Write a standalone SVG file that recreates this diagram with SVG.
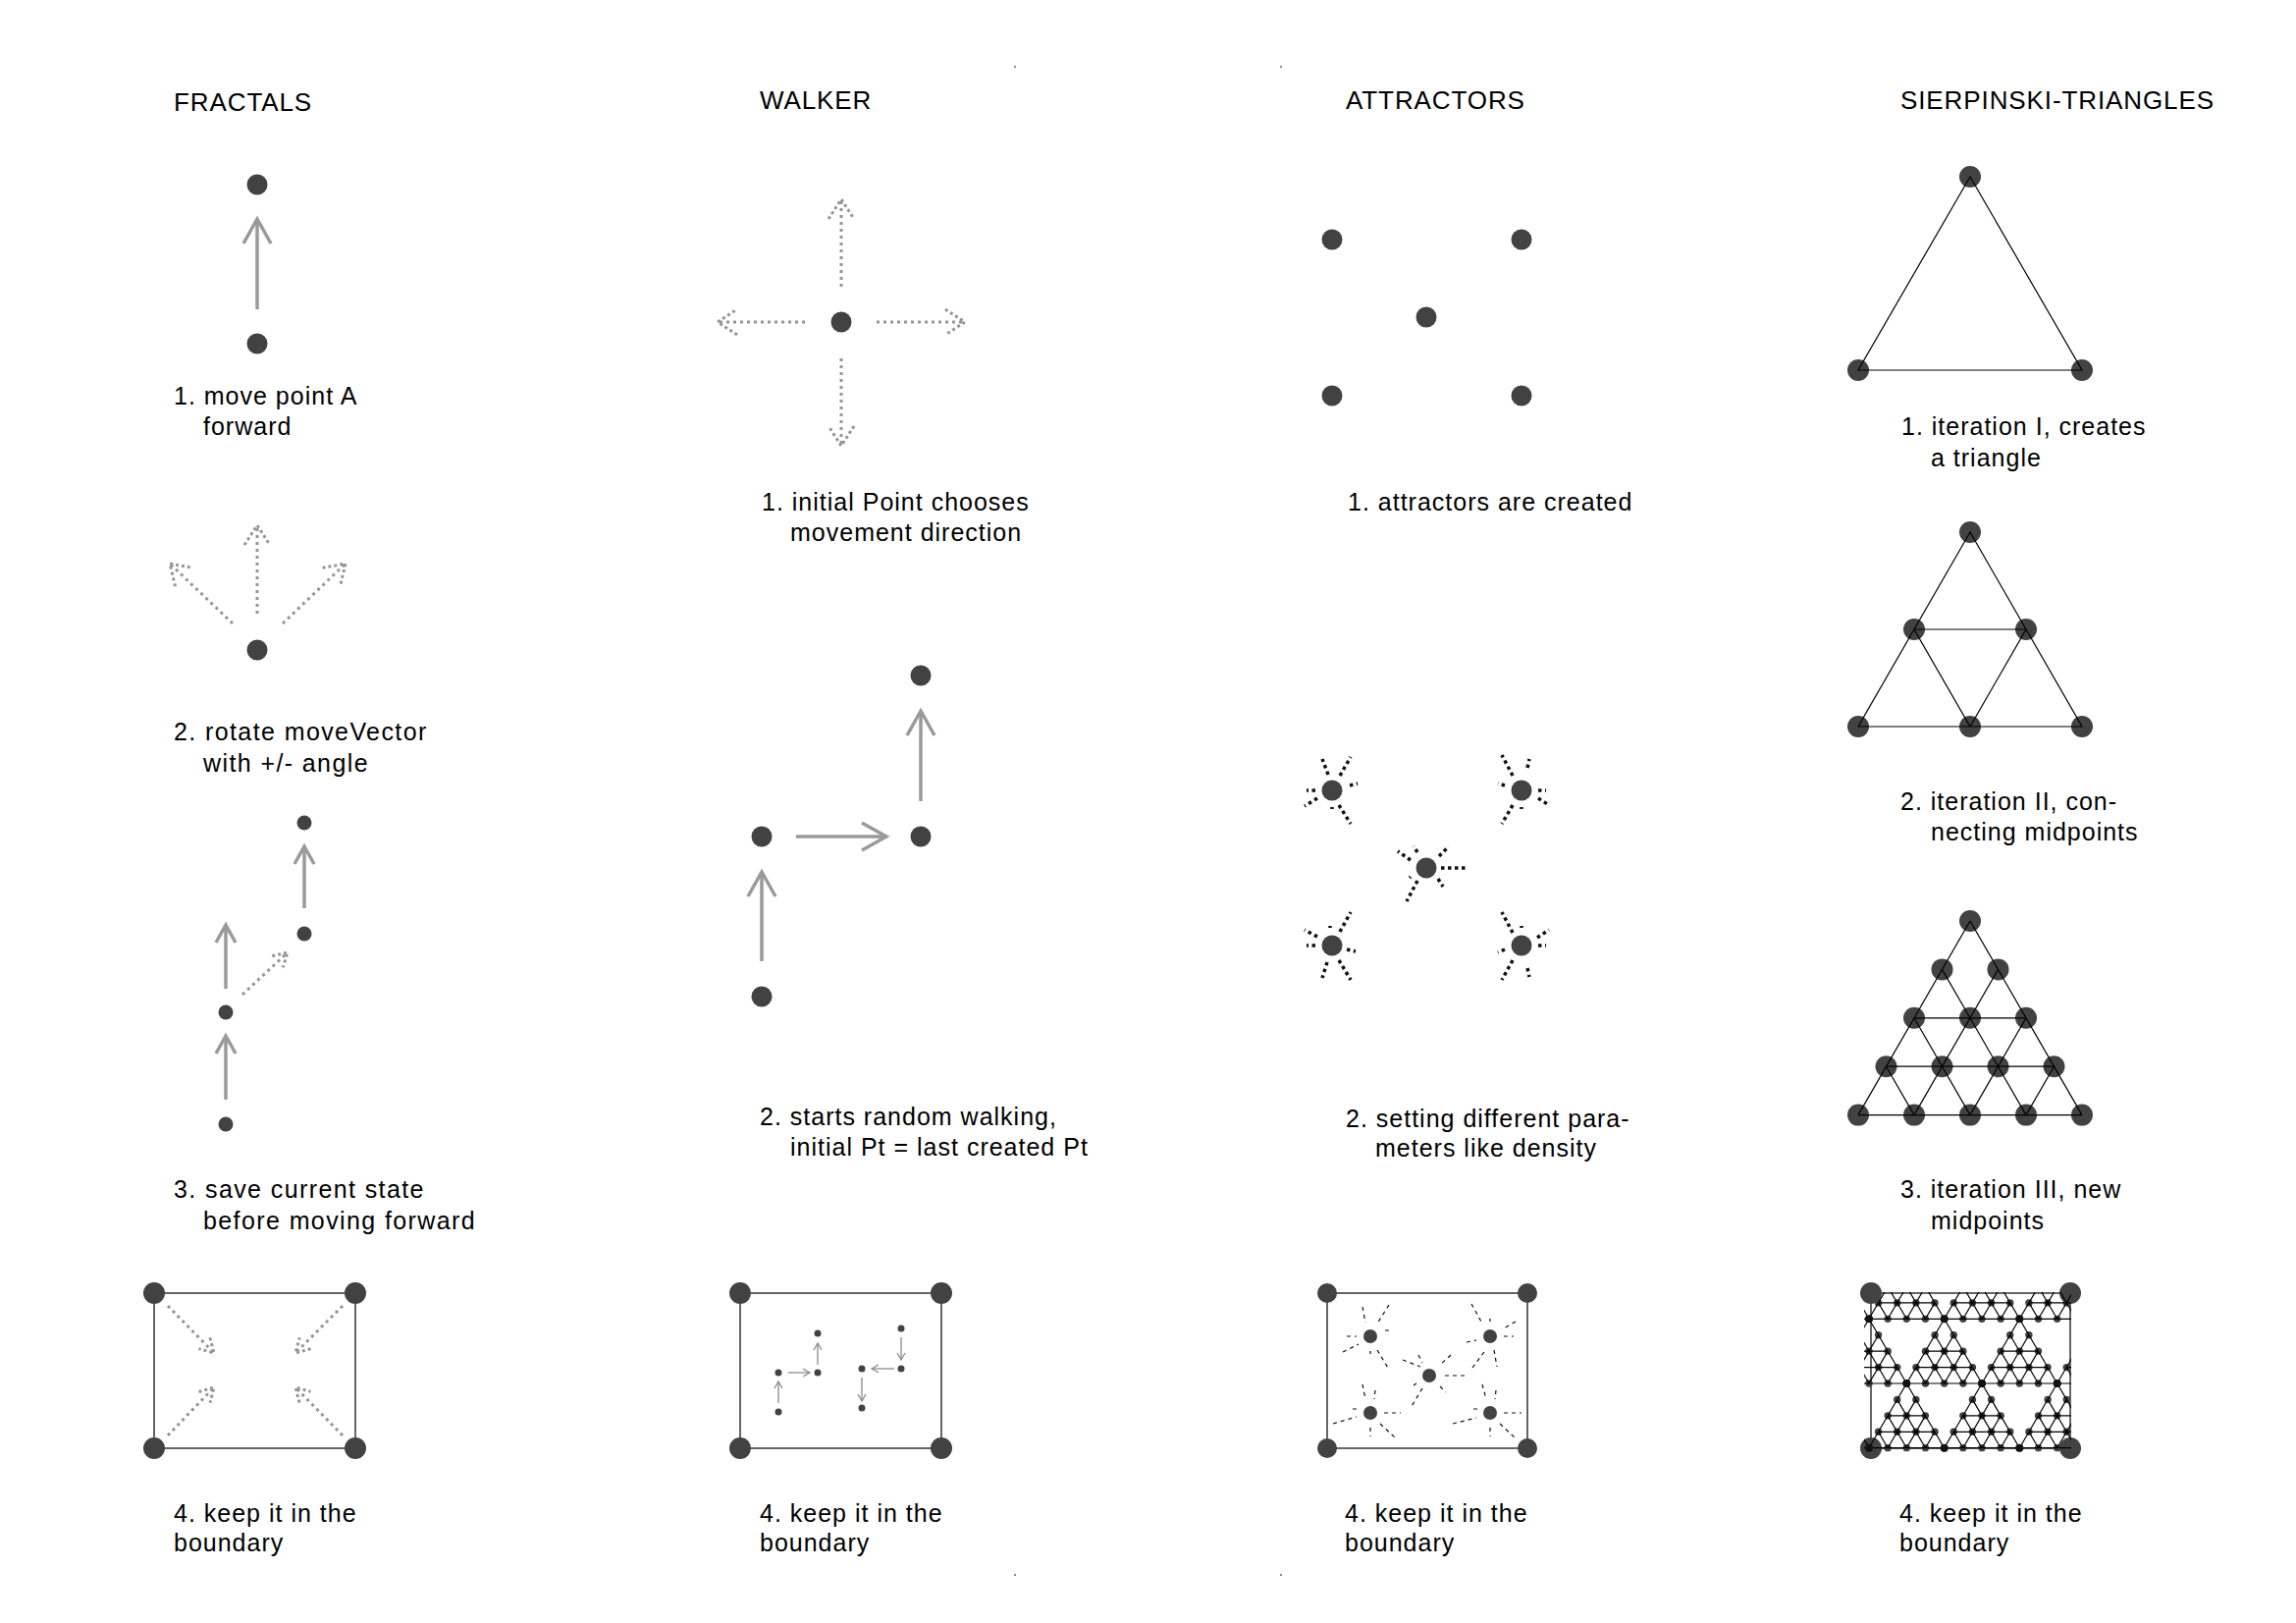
<svg xmlns="http://www.w3.org/2000/svg" width="2339" height="1653" viewBox="0 0 2339 1653">
<style>
.t{font-family:"Liberation Sans",Arial,sans-serif;font-size:25px;letter-spacing:1px;fill:#000}
.w{letter-spacing:1.4px}
.h{font-family:"Liberation Sans",Arial,sans-serif;font-size:26px;letter-spacing:0.9px;fill:#000}
.d{fill:#424242}
.bk{fill:#111}
.ga{stroke:#9a9a9a;stroke-width:3.5;fill:none;marker-end:url(#ah)}
.gs{stroke:#9a9a9a;stroke-width:3.5;fill:none;marker-end:url(#ahs)}
.da{stroke:#959595;stroke-width:3;stroke-dasharray:3 4;fill:none;marker-end:url(#dh)}
.ds{stroke:#959595;stroke-width:3;stroke-dasharray:3 4;fill:none;marker-end:url(#dhs)}
.tw{stroke:#8a8a8a;stroke-width:1.3;fill:none;marker-end:url(#tiny)}
.ray{stroke:#111;stroke-width:3.5;stroke-dasharray:3.5 3.5;fill:none}
.ray2{stroke:#111;stroke-width:1.2;stroke-dasharray:4 4;fill:none}
.box{fill:none;stroke:#333;stroke-width:1.5}
.sl{fill:none;stroke:#000;stroke-width:1.2;vector-effect:non-scaling-stroke}
.mk{fill:#8a8a8a}
</style>
<defs>
<marker id="ah" markerUnits="userSpaceOnUse" viewBox="-30 -20 40 40" markerWidth="40" markerHeight="40" refX="0" refY="0" orient="auto" overflow="visible">
<path d="M-25,-14 L0,0 L-25,14" fill="none" stroke="#9a9a9a" stroke-width="3.5"/>
</marker>
<marker id="ahs" markerUnits="userSpaceOnUse" viewBox="-30 -20 40 40" markerWidth="40" markerHeight="40" refX="0" refY="0" orient="auto" overflow="visible">
<path d="M-18,-10 L0,0 L-18,10" fill="none" stroke="#9a9a9a" stroke-width="3.5"/>
</marker>
<marker id="dh" markerUnits="userSpaceOnUse" viewBox="-30 -20 40 40" markerWidth="40" markerHeight="40" refX="0" refY="0" orient="auto" overflow="visible">
<path d="M-20,-13 L0,0 L-20,13" fill="none" stroke="#959595" stroke-width="3" stroke-dasharray="3 3"/>
</marker>
<marker id="dhs" markerUnits="userSpaceOnUse" viewBox="-30 -20 40 40" markerWidth="40" markerHeight="40" refX="0" refY="0" orient="auto" overflow="visible">
<path d="M-14,-8 L0,0 L-14,8" fill="none" stroke="#959595" stroke-width="3" stroke-dasharray="3 3"/>
</marker>
<marker id="tiny" markerUnits="userSpaceOnUse" viewBox="-10 -10 20 20" markerWidth="20" markerHeight="20" refX="0" refY="0" orient="auto" overflow="visible">
<path d="M-7,-4 L0,0 L-7,4" fill="none" stroke="#8a8a8a" stroke-width="1.3"/>
</marker>
<g id="tri3">
<g class="d">
<circle cx="0" cy="0" r="11"/>
<circle cx="-28.5" cy="49.4" r="11"/><circle cx="28.5" cy="49.4" r="11"/>
<circle cx="-57" cy="98.8" r="11"/><circle cx="0" cy="98.8" r="11"/><circle cx="57" cy="98.8" r="11"/>
<circle cx="-85.5" cy="148.2" r="11"/><circle cx="-28.5" cy="148.2" r="11"/><circle cx="28.5" cy="148.2" r="11"/><circle cx="85.5" cy="148.2" r="11"/>
<circle cx="-114" cy="197.6" r="11"/><circle cx="-57" cy="197.6" r="11"/><circle cx="0" cy="197.6" r="11"/><circle cx="57" cy="197.6" r="11"/><circle cx="114" cy="197.6" r="11"/>
</g>
<path class="sl" d="M0,0 L-114,197.6 M28.5,49.4 L-57,197.6 M57,98.8 L0,197.6 M85.5,148.2 L57,197.6 M0,0 L114,197.6 M-28.5,49.4 L57,197.6 M-57,98.8 L0,197.6 M-85.5,148.2 L-57,197.6 M-57,98.8 L57,98.8 M-85.5,148.2 L85.5,148.2 M-114,197.6 L114,197.6"/>
</g>
<clipPath id="c4"><rect x="1899" y="1316" width="211" height="166"/></clipPath>
</defs>
<rect width="2339" height="1653" fill="#fff"/>

<g id="marks">
<rect class="mk" x="1033" y="67" width="2" height="2"/>
<rect class="mk" x="1304" y="67" width="2" height="2"/>
<rect class="mk" x="1033" y="1603" width="2" height="2"/>
<rect class="mk" x="1304" y="1603" width="2" height="2"/>
</g>

<g id="titles">
<text class="h" x="177" y="113">FRACTALS</text>
<text class="h" x="774" y="111">WALKER</text>
<text class="h" x="1371" y="111">ATTRACTORS</text>
<text class="h" x="1936" y="111">SIERPINSKI-TRIANGLES</text>
</g>

<g id="connectors">
<line class="ga" x1="262" y1="315" x2="262" y2="223"/>
<line class="da" x1="262" y1="625" x2="262" y2="535"/>
<line class="da" x1="237" y1="635" x2="173" y2="574"/>
<line class="da" x1="288" y1="635" x2="352" y2="574"/>
<line class="gs" x1="310" y1="925" x2="310" y2="862"/>
<line class="gs" x1="230" y1="1007" x2="230" y2="942"/>
<line class="gs" x1="230" y1="1120" x2="230" y2="1055"/>
<line class="ds" x1="247" y1="1013" x2="293" y2="970"/>
<line class="ds" x1="171" y1="1330" x2="218" y2="1378"/>
<line class="ds" x1="349" y1="1330" x2="301" y2="1378"/>
<line class="ds" x1="171" y1="1462" x2="218" y2="1413"/>
<line class="ds" x1="349" y1="1462" x2="301" y2="1413"/>
<line class="da" x1="857" y1="292" x2="857" y2="203"/>
<line class="da" x1="857" y1="365" x2="857" y2="454"/>
<line class="da" x1="820" y1="328" x2="731" y2="328"/>
<line class="da" x1="893" y1="328" x2="983" y2="328"/>
<line class="ga" x1="938" y1="816" x2="938" y2="724"/>
<line class="ga" x1="811" y1="852" x2="903" y2="852"/>
<line class="ga" x1="776" y1="979" x2="776" y2="888"/>
<line class="tw" x1="793" y1="1429" x2="793" y2="1407"/>
<line class="tw" x1="803" y1="1398" x2="825" y2="1398"/>
<line class="tw" x1="833" y1="1390" x2="833" y2="1368"/>
<line class="tw" x1="918" y1="1362" x2="918" y2="1385"/>
<line class="tw" x1="911" y1="1394" x2="888" y2="1394"/>
<line class="tw" x1="878" y1="1403" x2="878" y2="1427"/>
</g>

<g id="fractals-1">
<circle class="d" cx="262" cy="188" r="10.5"/>
<circle class="d" cx="262" cy="350" r="10.5"/>
<text class="t" x="177" y="412">1. move point A</text>
<text class="t" x="207" y="443">forward</text>
</g>
<g id="fractals-2">
<circle class="d" cx="262" cy="662" r="10.5"/>
<text class="t w" x="177" y="754">2. rotate moveVector</text>
<text class="t w" x="207" y="786">with +/- angle</text>
</g>
<g id="fractals-3">
<circle class="d" cx="310" cy="838" r="7.5"/>
<circle class="d" cx="310" cy="951" r="7.5"/>
<circle class="d" cx="230" cy="1031" r="7.5"/>
<circle class="d" cx="230" cy="1145" r="7.5"/>
<text class="t w" x="177" y="1220">3. save current state</text>
<text class="t w" x="207" y="1252">before moving forward</text>
</g>
<g id="fractals-4">
<rect class="box" x="157" y="1317" width="205" height="158"/>
<circle class="d" cx="157" cy="1317" r="11"/><circle class="d" cx="362" cy="1317" r="11"/>
<circle class="d" cx="157" cy="1475" r="11"/><circle class="d" cx="362" cy="1475" r="11"/>
<text class="t" x="177" y="1550">4. keep it in the</text>
<text class="t" x="177" y="1580">boundary</text>
</g>

<g id="walker-1">
<circle class="d" cx="857" cy="328" r="10.5"/>
<text class="t" x="776" y="520">1. initial Point chooses</text>
<text class="t" x="805" y="551">movement direction</text>
</g>
<g id="walker-2">
<circle class="d" cx="938" cy="688" r="10.5"/>
<circle class="d" cx="776" cy="852" r="10.5"/>
<circle class="d" cx="938" cy="852" r="10.5"/>
<circle class="d" cx="776" cy="1015" r="10.5"/>
<text class="t" x="774" y="1146">2. starts random walking,</text>
<text class="t" x="805" y="1177">initial Pt = last created Pt</text>
</g>
<g id="walker-4">
<rect class="box" x="754" y="1317" width="205" height="158"/>
<circle class="d" cx="754" cy="1317" r="11"/><circle class="d" cx="959" cy="1317" r="11"/>
<circle class="d" cx="754" cy="1475" r="11"/><circle class="d" cx="959" cy="1475" r="11"/>
<g class="d">
<circle cx="793" cy="1398" r="3.5"/><circle cx="833" cy="1398" r="3.5"/><circle cx="833" cy="1358" r="3.5"/><circle cx="793" cy="1438" r="3.5"/>
<circle cx="918" cy="1353" r="3.5"/><circle cx="918" cy="1394" r="3.5"/><circle cx="878" cy="1394" r="3.5"/><circle cx="878" cy="1434" r="3.5"/>
</g>
<text class="t" x="774" y="1550">4. keep it in the</text>
<text class="t" x="774" y="1580">boundary</text>
</g>

<g id="attractors-1">
<circle class="d" cx="1357" cy="244" r="10.5"/>
<circle class="d" cx="1550" cy="244" r="10.5"/>
<circle class="d" cx="1453" cy="323" r="10.5"/>
<circle class="d" cx="1357" cy="403" r="10.5"/>
<circle class="d" cx="1550" cy="403" r="10.5"/>
<text class="t" x="1373" y="520">1. attractors are created</text>
</g>
<g id="attractors-2">
<g transform="translate(1357,805)"><circle class="d" r="10.5"/><path class="ray" d="M-4,-16L-10,-32M8,-15L19,-34M18,-5L26,-7M-17,0L-26,0M-15,8L-28,16M0,17L0,19M7,15L19,34"/></g>
<g transform="translate(1550,805)"><circle class="d" r="10.5"/><path class="ray" d="M-9,-15L-20,-36M6,-23L8,-32M-17,-5L-24,-7M17,0L25,0M17,8L28,15M0,17L0,19M-9,15L-20,34"/></g>
<g transform="translate(1453,884)"><circle class="d" r="10.5"/><path class="ray" d="M-16,-8L-29,-17M-9,-16L-13,-22M13,-12L23,-22M15,0L41,0M12,11L17,19M-9,13L-20,34M-16,9L-17,10"/></g>
<g transform="translate(1357,963)"><circle class="d" r="10.5"/><path class="ray" d="M8,-14L19,-34M-15,-9L-28,-16M-2,-18L-2,-20M-17,0L-26,0M15,4L24,6M-5,17L-10,33M7,15L19,35"/></g>
<g transform="translate(1550,963)"><circle class="d" r="10.5"/><path class="ray" d="M-9,-13L-20,-34M0,-18L0,-20M16,-8L28,-16M17,0L25,0M-17,4L-24,7M-9,15L-20,35M6,23L8,32"/></g>
<text class="t" x="1371" y="1148">2. setting different para-</text>
<text class="t" x="1401" y="1178">meters like density</text>
</g>
<g id="attractors-4">
<rect class="box" x="1352" y="1317" width="204" height="158"/>
<circle class="d" cx="1352" cy="1317" r="10"/><circle class="d" cx="1556" cy="1317" r="10"/>
<circle class="d" cx="1352" cy="1475" r="10"/><circle class="d" cx="1556" cy="1475" r="10"/>
<g transform="translate(1396,1361)"><circle class="d" r="7"/><path class="ray2" d="M-8,-30L-5,-14M19,-32L7,-13M15,-6L23,-6M-24,0L-14,0M-28,16L-12,8M0,15L0,18M7,14L19,34"/></g>
<g transform="translate(1518,1361)"><circle class="d" r="7"/><path class="ray2" d="M-19,-33L-8,-13M0,-18L0,-15M26,-15L12,-7M14,0L24,0M-24,6L-14,4M4,14L7,31M-6,16L-18,32"/></g>
<g transform="translate(1456,1401)"><circle class="d" r="7"/><path class="ray2" d="M-27,-16L-9,-9M-11,-21L-7,-13M22,-21L11,-11M16,0L37,0M11,11L17,17M-7,13L-19,33M-13,8L-16,10"/></g>
<g transform="translate(1396,1439)"><circle class="d" r="7"/><path class="ray2" d="M-8,-29L-5,-14M5,-23L4,-14M-18,-4L-14,-4M-38,11L-14,4M14,0L31,0M0,15L0,24M10,11L26,26"/></g>
<g transform="translate(1518,1439)"><circle class="d" r="7"/><path class="ray2" d="M-8,-29L-4,-14M6,-23L5,-14M-17,-4L-13,-4M-38,11L-14,5M14,0L32,0M0,15L0,24M10,11L26,26"/></g>
<text class="t" x="1370" y="1550">4. keep it in the</text>
<text class="t" x="1370" y="1580">boundary</text>
</g>

<g id="sierpinski-1">
<circle class="d" cx="2007" cy="180" r="11"/><circle class="d" cx="1893" cy="377" r="11"/><circle class="d" cx="2121" cy="377" r="11"/>
<path class="sl" d="M2007,180 L1893,377 L2121,377 Z"/>
<text class="t" x="1937" y="443">1. iteration I, creates</text>
<text class="t" x="1967" y="475">a triangle</text>
</g>
<g id="sierpinski-2">
<g class="d">
<circle cx="2007" cy="542" r="11"/><circle cx="1950" cy="641" r="11"/><circle cx="2064" cy="641" r="11"/>
<circle cx="1893" cy="740" r="11"/><circle cx="2007" cy="740" r="11"/><circle cx="2121" cy="740" r="11"/>
</g>
<path class="sl" d="M2007,542 L1893,740 L2121,740 Z M1950,641 L2064,641 L2007,740 Z"/>
<text class="t" x="1936" y="825">2. iteration II, con-</text>
<text class="t" x="1967" y="856">necting midpoints</text>
</g>
<g id="sierpinski-3">
<use href="#tri3" transform="translate(2007,938)"/>
<text class="t" x="1936" y="1220">3. iteration III, new</text>
<text class="t" x="1967" y="1252">midpoints</text>
</g>
<g id="sierpinski-4">
<rect class="box" x="1906" y="1317" width="203" height="158"/>
<circle class="d" cx="1906" cy="1317" r="11"/><circle class="d" cx="2109" cy="1317" r="11"/>
<circle class="d" cx="1906" cy="1475" r="11"/><circle class="d" cx="2109" cy="1475" r="11"/>
<g clip-path="url(#c4)">
<use href="#tri3" transform="translate(1865.7,1277.6) scale(0.3363,0.3325)"/>
<use href="#tri3" transform="translate(1942.3,1277.6) scale(0.3363,0.3325)"/>
<use href="#tri3" transform="translate(2019,1277.6) scale(0.3363,0.3325)"/>
<use href="#tri3" transform="translate(2095.7,1277.6) scale(0.3363,0.3325)"/>
<use href="#tri3" transform="translate(1904,1343.3) scale(0.3363,0.3325)"/>
<use href="#tri3" transform="translate(1980.7,1343.3) scale(0.3363,0.3325)"/>
<use href="#tri3" transform="translate(2057.3,1343.3) scale(0.3363,0.3325)"/>
<use href="#tri3" transform="translate(2134,1343.3) scale(0.3363,0.3325)"/>
<use href="#tri3" transform="translate(1865.7,1409) scale(0.3363,0.3325)"/>
<use href="#tri3" transform="translate(1942.3,1409) scale(0.3363,0.3325)"/>
<use href="#tri3" transform="translate(2019,1409) scale(0.3363,0.3325)"/>
<use href="#tri3" transform="translate(2095.7,1409) scale(0.3363,0.3325)"/>
<g class="bk">
<circle cx="1904" cy="1343.3" r="4"/><circle cx="1980.7" cy="1343.3" r="4"/><circle cx="2057.3" cy="1343.3" r="4"/>
<circle cx="1942.3" cy="1409" r="4"/><circle cx="2019" cy="1409" r="4"/><circle cx="2095.7" cy="1409" r="4"/>
<circle cx="1904" cy="1474.7" r="4"/><circle cx="1980.7" cy="1474.7" r="4"/><circle cx="2057.3" cy="1474.7" r="4"/>
</g>
</g>
<text class="t" x="1935" y="1550">4. keep it in the</text>
<text class="t" x="1935" y="1580">boundary</text>
</g>
</svg>
